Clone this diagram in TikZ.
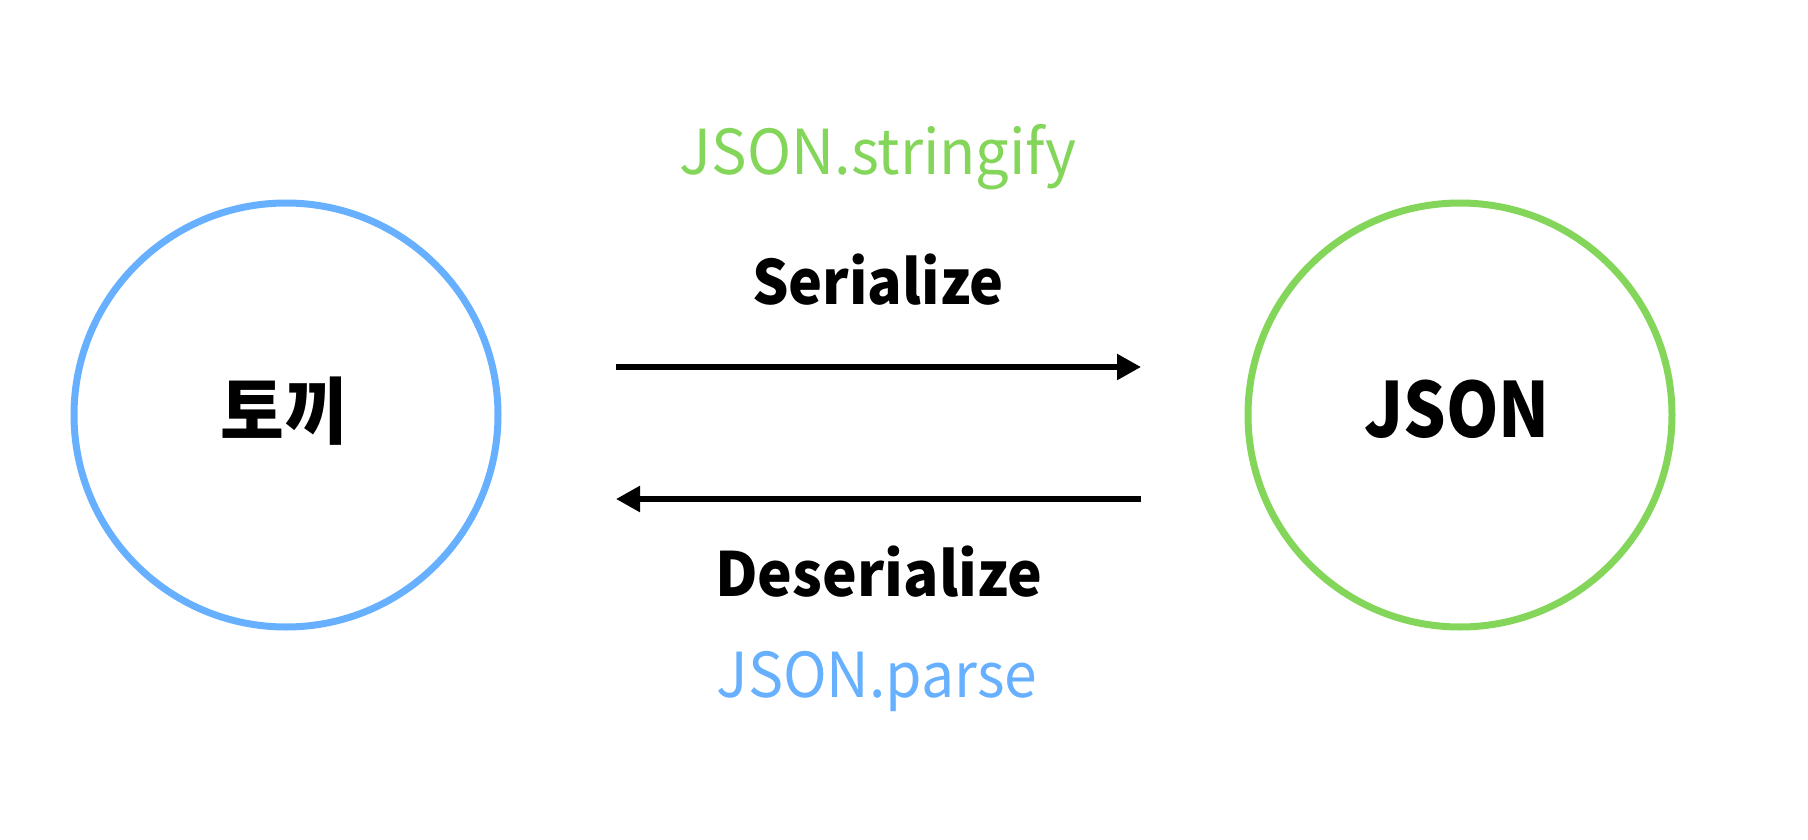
\documentclass[tikz,border=0pt]{standalone}
\usepackage{fontspec}
\usepackage{graphicx}
\setmainfont{Noto Sans CJK KR}
\usetikzlibrary{arrows.meta}
\definecolor{jsgreen}{RGB}{132,214,90}
\definecolor{jsblue}{RGB}{102,176,255}
\tikzset{
  state/.style={circle, line width=7pt, minimum size=424pt, inner sep=0pt},
  conn/.style={line width=5.5pt, -{Triangle[length=24pt,width=25pt]}},
  verb/.style={font=\fontsize{61}{70}\selectfont\bfseries, anchor=base},
  func/.style={font=\fontsize{62}{70}\selectfont, anchor=base},
}
\begin{document}
\begin{tikzpicture}[x=1pt,y=-1pt]
\useasboundingbox (0,0) rectangle (1808,840);
\node[state, draw=jsblue] (obj) at (286,415) {};
\node[state, draw=jsgreen] (json) at (1460,415) {};
\node[font=\fontsize{73}{80}\selectfont\bfseries] (objl) at (284,411) {\scalebox{0.95}[1]{토끼}};
\node[font=\fontsize{76}{80}\selectfont\bfseries, anchor=base] (jsonl) at (1457,437) {\scalebox{0.88}[1]{JSON}};
\coordinate (a1s) at (616,367);
\coordinate (a1e) at (1141,367);
\coordinate (a2s) at (1141,499);
\coordinate (a2e) at (616,499);
\draw[conn] (a1s) -- (a1e);
\draw[conn] (a2s) -- (a2e);
\node[func, text=jsgreen] (strfy) at (878,175) {\scalebox{0.96}[1]{JSON.stringify}};
\node[verb] (ser) at (878,304) {\scalebox{0.94}[1]{Serialize}};
\node[verb] (deser) at (879,596) {\scalebox{0.96}[1]{Deserialize}};
\node[func, text=jsblue] (parse) at (877,697) {\scalebox{0.95}[1]{JSON.parse}};
\end{tikzpicture}
\end{document}
